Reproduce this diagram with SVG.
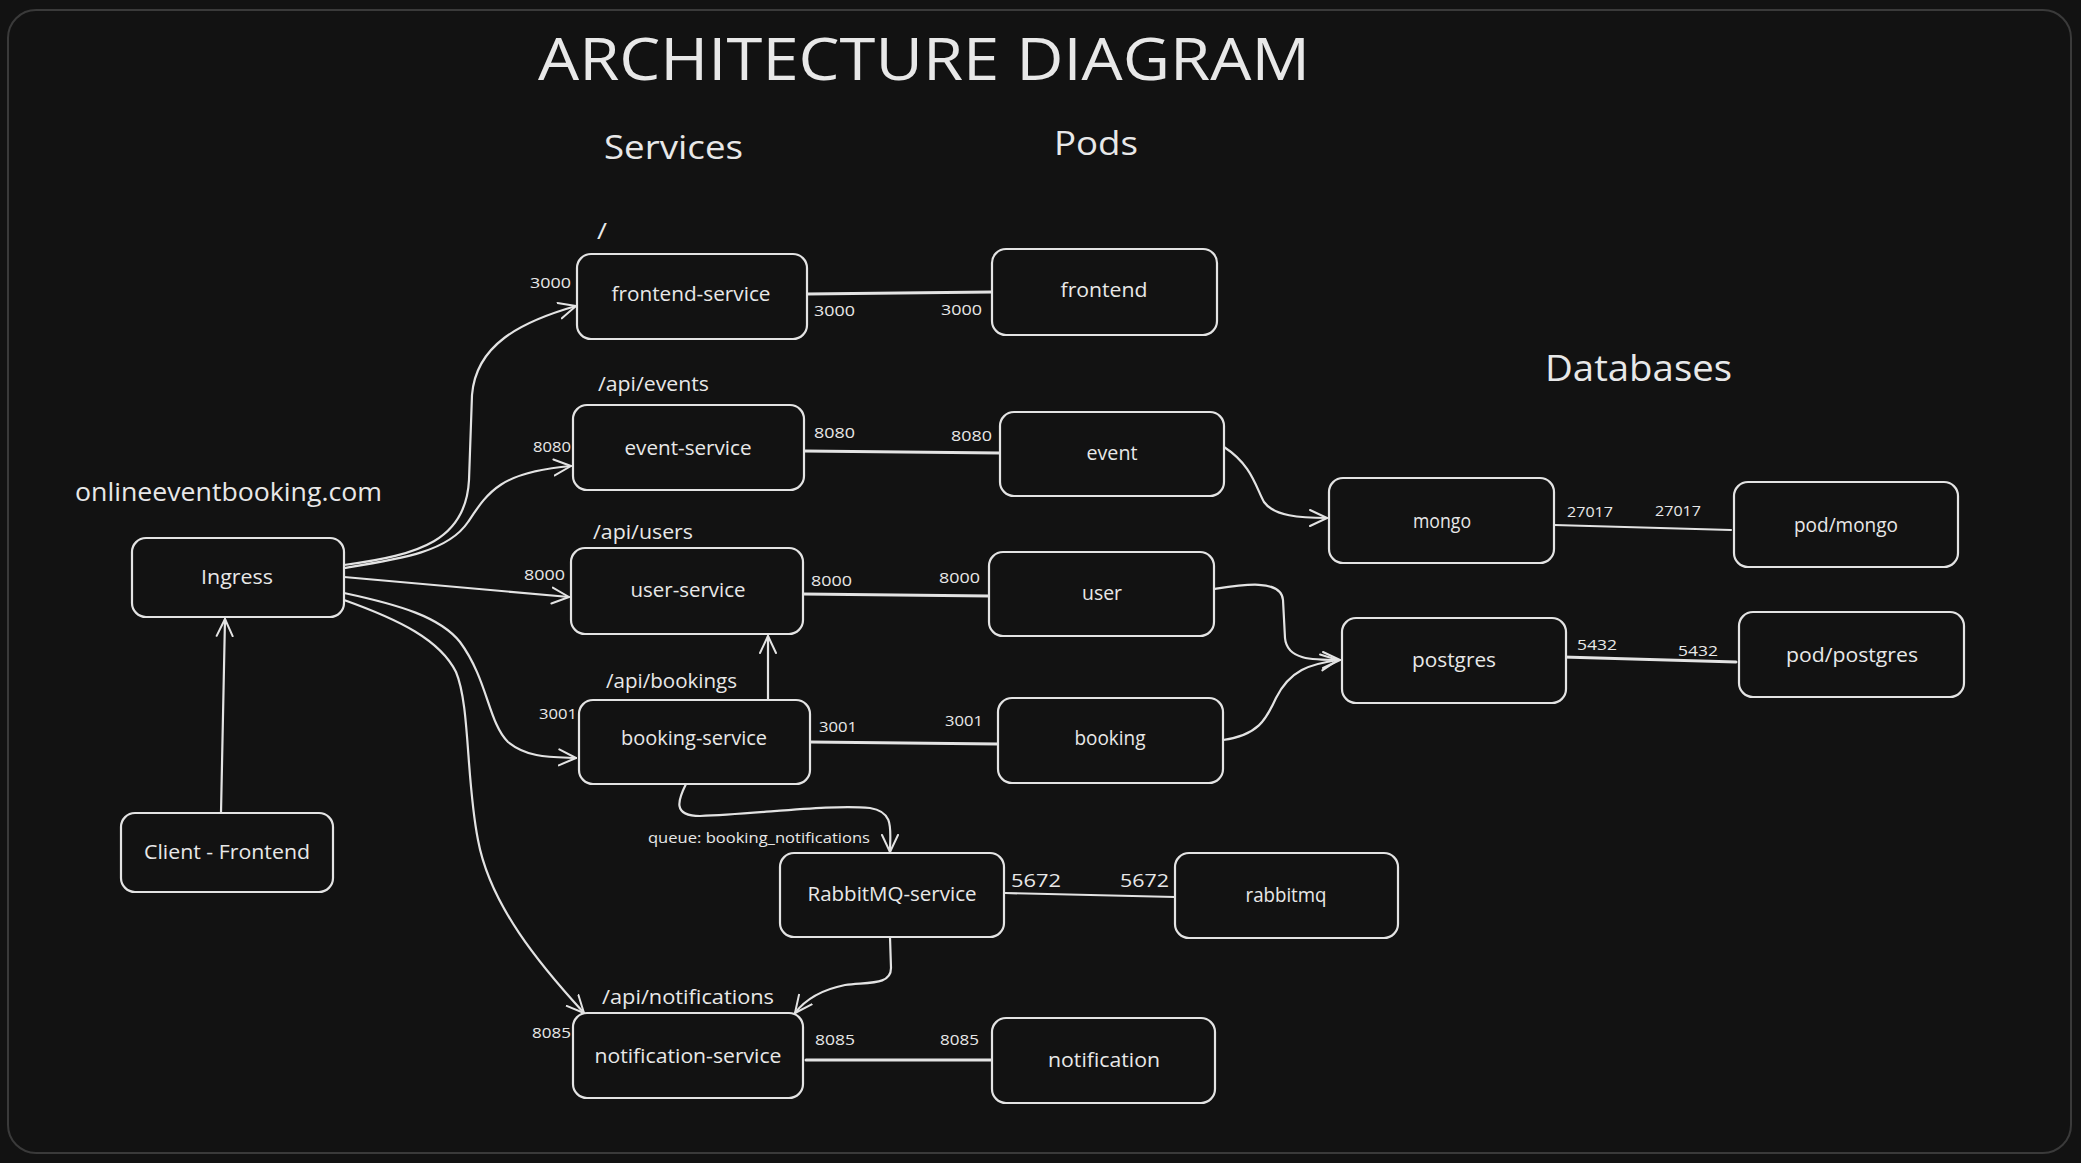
<svg xmlns="http://www.w3.org/2000/svg" width="2081" height="1163" viewBox="0 0 2081 1163">
<defs>
<style>
.bg{fill:#121212}
.frame{fill:none;stroke:#3a3a3a;stroke-width:2}
.box{fill:#121212;stroke:#e3e3e3;stroke-width:2.2}
.t{fill:#e8e8e8;font-family:"Open Sans","Liberation Sans",sans-serif}
.n{font-size:20px;text-anchor:middle}
.p{font-size:15px}
.r{font-size:20px}
.h{font-size:32px}
.c{fill:none;stroke:#e3e3e3;stroke-width:2.2;stroke-linecap:round;stroke-linejoin:round}
.cl{fill:none;stroke:#e3e3e3;stroke-width:3;stroke-linecap:round}
.a{marker-end:url(#arr)}
</style>
<marker id="arr" viewBox="0 0 20 20" refX="18" refY="10" markerWidth="20" markerHeight="20" markerUnits="userSpaceOnUse" orient="auto">
<path d="M1,2 L18,10 L1,18" fill="none" stroke="#e3e3e3" stroke-width="2" stroke-linecap="round" stroke-linejoin="round"/>
</marker>
</defs>
<rect class="bg" x="0" y="0" width="2081" height="1163"/>
<rect class="frame" x="8" y="10" width="2063" height="1143" rx="28"/>

<g id="titles">
<text class="t" x="538" y="80" font-size="58" textLength="772" lengthAdjust="spacingAndGlyphs">ARCHITECTURE DIAGRAM</text>
<text class="t h" x="604" y="159" textLength="139" lengthAdjust="spacingAndGlyphs">Services</text>
<text class="t h" x="1054" y="155" font-size="34" textLength="84" lengthAdjust="spacingAndGlyphs">Pods</text>
<text class="t" x="1545" y="381" font-size="36" textLength="187" lengthAdjust="spacingAndGlyphs">Databases</text>
<text class="t" x="75" y="501" font-size="26" textLength="307" lengthAdjust="spacingAndGlyphs">onlineeventbooking.com</text>
</g>

<g id="connectors">
<path class="cl" d="M807,294 L992,292"/>
<path class="cl" d="M804,451 L1000,453"/>
<path class="cl" d="M803,594 L989,596"/>
<path class="cl" d="M810,742 L998,744"/>
<path class="c" d="M1005,893 L1175,897"/>
<path class="cl" d="M806,1060 L991,1060"/>
<path class="c" d="M1554,525 L1731,530"/>
<path class="cl" d="M1563,657 L1736,662"/>

<path class="c a" d="M221,813 L225,619"/>
<path class="c a" d="M344,565 C420,555 466,540 469,480 L472,395 C476,345 520,322 576,306"/>
<path class="c a" d="M344,568 C400,559 448,552 468,522 C488,492 500,472 571,466"/>
<path class="c a" d="M344,577 L569,597"/>
<path class="c a" d="M344,593 C400,605 440,617 460,642 C488,680 488,722 508,742 C528,758 550,757 576,758"/>
<path class="c a" d="M344,600 C400,620 440,640 456,672 C470,705 466,780 478,840 C490,905 540,965 584,1013"/>
<path class="c a" d="M768,700 L768,636"/>
<path class="c a" d="M686,784 C678,800 672,816 700,816 C760,814 830,804 870,808 C895,812 890,830 890,852"/>
<path class="c a" d="M890,937 L891,968 C891,985 870,982 845,985 C820,990 805,1000 795,1013"/>
<path class="c a" d="M1224,447 C1252,465 1256,488 1264,502 C1274,516 1300,518 1327,518"/>
<path class="c a" d="M1214,589 C1240,585 1281,578 1283,600 L1285,638 C1287,660 1312,660 1340,660"/>
<path class="c a" d="M1223,740 C1258,735 1266,720 1276,698 C1290,670 1310,664 1338,660"/>

<text class="t p" x="530" y="288" textLength="41" lengthAdjust="spacingAndGlyphs">3000</text>
<text class="t p" x="814" y="316" textLength="41" lengthAdjust="spacingAndGlyphs">3000</text>
<text class="t p" x="941" y="315" textLength="41" lengthAdjust="spacingAndGlyphs">3000</text>
<text class="t p" x="533" y="452" textLength="38" lengthAdjust="spacingAndGlyphs">8080</text>
<text class="t p" x="814" y="438" textLength="41" lengthAdjust="spacingAndGlyphs">8080</text>
<text class="t p" x="951" y="441" textLength="41" lengthAdjust="spacingAndGlyphs">8080</text>
<text class="t p" x="524" y="580" textLength="41" lengthAdjust="spacingAndGlyphs">8000</text>
<text class="t p" x="811" y="586" textLength="41" lengthAdjust="spacingAndGlyphs">8000</text>
<text class="t p" x="939" y="583" textLength="41" lengthAdjust="spacingAndGlyphs">8000</text>
<text class="t p" x="539" y="719" textLength="38" lengthAdjust="spacingAndGlyphs">3001</text>
<text class="t p" x="819" y="732" textLength="38" lengthAdjust="spacingAndGlyphs">3001</text>
<text class="t p" x="945" y="726" textLength="38" lengthAdjust="spacingAndGlyphs">3001</text>
<text class="t p" x="532" y="1038" textLength="39" lengthAdjust="spacingAndGlyphs">8085</text>
<text class="t p" x="815" y="1045" textLength="40" lengthAdjust="spacingAndGlyphs">8085</text>
<text class="t p" x="940" y="1045" textLength="39" lengthAdjust="spacingAndGlyphs">8085</text>
<text class="t" x="1011" y="887" font-size="19" textLength="50" lengthAdjust="spacingAndGlyphs">5672</text>
<text class="t" x="1120" y="887" font-size="19" textLength="49" lengthAdjust="spacingAndGlyphs">5672</text>
<text class="t p" x="1567" y="517" textLength="46" lengthAdjust="spacingAndGlyphs">27017</text>
<text class="t p" x="1655" y="516" textLength="46" lengthAdjust="spacingAndGlyphs">27017</text>
<text class="t p" x="1577" y="650" textLength="40" lengthAdjust="spacingAndGlyphs">5432</text>
<text class="t p" x="1678" y="656" textLength="40" lengthAdjust="spacingAndGlyphs">5432</text>

<text class="t" x="597" y="239" font-size="22" textLength="10" lengthAdjust="spacingAndGlyphs">/</text>
<text class="t r" x="598" y="391" textLength="111" lengthAdjust="spacingAndGlyphs">/api/events</text>
<text class="t r" x="593" y="539" textLength="100" lengthAdjust="spacingAndGlyphs">/api/users</text>
<text class="t r" x="606" y="688" textLength="131" lengthAdjust="spacingAndGlyphs">/api/bookings</text>
<text class="t r" x="602" y="1004" textLength="172" lengthAdjust="spacingAndGlyphs">/api/notifications</text>
<text class="t" x="648" y="843" font-size="15" textLength="222" lengthAdjust="spacingAndGlyphs">queue: booking_notifications</text>
</g>

<g id="ingress"><rect class="box" x="132" y="538" width="212" height="79" rx="14"/><text class="t n" x="237" y="584" textLength="72" lengthAdjust="spacingAndGlyphs">Ingress</text></g>
<g id="client-frontend"><rect class="box" x="121" y="813" width="212" height="79" rx="14"/><text class="t n" x="227" y="859" textLength="166" lengthAdjust="spacingAndGlyphs">Client - Frontend</text></g>
<g id="frontend-service"><rect class="box" x="577" y="254" width="230" height="85" rx="14"/><text class="t n" x="691" y="301" textLength="159" lengthAdjust="spacingAndGlyphs">frontend-service</text></g>
<g id="frontend"><rect class="box" x="992" y="249" width="225" height="86" rx="14"/><text class="t n" x="1104" y="297" textLength="87" lengthAdjust="spacingAndGlyphs">frontend</text></g>
<g id="event-service"><rect class="box" x="573" y="405" width="231" height="85" rx="14"/><text class="t n" x="688" y="455" textLength="127" lengthAdjust="spacingAndGlyphs">event-service</text></g>
<g id="event"><rect class="box" x="1000" y="412" width="224" height="84" rx="14"/><text class="t n" x="1112" y="460" textLength="51" lengthAdjust="spacingAndGlyphs">event</text></g>
<g id="user-service"><rect class="box" x="571" y="548" width="232" height="86" rx="14"/><text class="t n" x="688" y="597" textLength="115" lengthAdjust="spacingAndGlyphs">user-service</text></g>
<g id="user"><rect class="box" x="989" y="552" width="225" height="84" rx="14"/><text class="t n" x="1102" y="600" textLength="40" lengthAdjust="spacingAndGlyphs">user</text></g>
<g id="booking-service"><rect class="box" x="579" y="700" width="231" height="84" rx="14"/><text class="t n" x="694" y="745" textLength="146" lengthAdjust="spacingAndGlyphs">booking-service</text></g>
<g id="booking"><rect class="box" x="998" y="698" width="225" height="85" rx="14"/><text class="t n" x="1110" y="745" textLength="71" lengthAdjust="spacingAndGlyphs">booking</text></g>
<g id="rabbitmq-service"><rect class="box" x="780" y="853" width="224" height="84" rx="14"/><text class="t n" x="892" y="901" textLength="169" lengthAdjust="spacingAndGlyphs">RabbitMQ-service</text></g>
<g id="rabbitmq"><rect class="box" x="1175" y="853" width="223" height="85" rx="14"/><text class="t n" x="1286" y="902" textLength="81" lengthAdjust="spacingAndGlyphs">rabbitmq</text></g>
<g id="notification-service"><rect class="box" x="573" y="1013" width="230" height="85" rx="14"/><text class="t n" x="688" y="1063" textLength="187" lengthAdjust="spacingAndGlyphs">notification-service</text></g>
<g id="notification"><rect class="box" x="992" y="1018" width="223" height="85" rx="14"/><text class="t n" x="1104" y="1067" textLength="112" lengthAdjust="spacingAndGlyphs">notification</text></g>
<g id="mongo"><rect class="box" x="1329" y="478" width="225" height="85" rx="14"/><text class="t n" x="1442" y="528" textLength="58" lengthAdjust="spacingAndGlyphs">mongo</text></g>
<g id="pod-mongo"><rect class="box" x="1734" y="482" width="224" height="85" rx="14"/><text class="t n" x="1846" y="532" textLength="104" lengthAdjust="spacingAndGlyphs">pod/mongo</text></g>
<g id="postgres"><rect class="box" x="1342" y="618" width="224" height="85" rx="14"/><text class="t n" x="1454" y="667" textLength="84" lengthAdjust="spacingAndGlyphs">postgres</text></g>
<g id="pod-postgres"><rect class="box" x="1739" y="612" width="225" height="85" rx="14"/><text class="t n" x="1852" y="662" textLength="132" lengthAdjust="spacingAndGlyphs">pod/postgres</text></g>
</svg>
